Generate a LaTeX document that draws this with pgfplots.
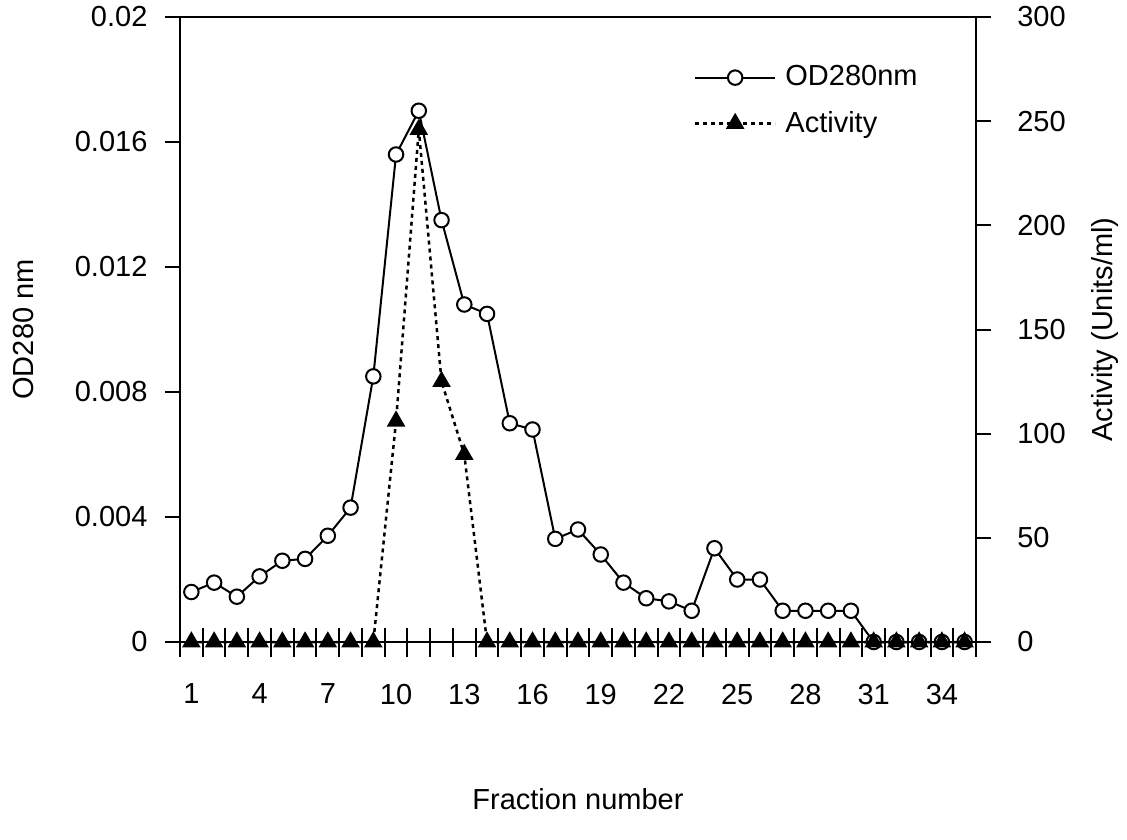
\documentclass[border=0pt]{standalone}
\usepackage{pgfplots}
\pgfplotsset{compat=1.18}
\usepackage{fontspec}
\setmainfont{Liberation Sans}

\pgfplotstableread{
frac od
1 0.0016
2 0.0019
3 0.00145
4 0.0021
5 0.0026
6 0.00266
7 0.0034
8 0.0043
9 0.0085
10 0.0156
11 0.0170
12 0.0135
13 0.0108
14 0.0105
15 0.0070
16 0.0068
17 0.0033
18 0.0036
19 0.0028
20 0.0019
21 0.0014
22 0.0013
23 0.0010
24 0.0030
25 0.0020
26 0.0020
27 0.0010
28 0.0010
29 0.0010
30 0.0010
31 0
32 0
33 0
34 0
35 0
}\odtable

\pgfplotstableread{
frac act
1 0
2 0
3 0
4 0
5 0
6 0
7 0
8 0
9 0
10 106
11 246
12 125
13 90
14 0
15 0
16 0
17 0
18 0
19 0
20 0
21 0
22 0
23 0
24 0
25 0
26 0
27 0
28 0
29 0
30 0
31 0
32 0
33 0
34 0
35 0
}\acttable

\begin{document}
\begin{tikzpicture}[font=\fontsize{11.6}{14}\selectfont]
\useasboundingbox (-72pt,-78.8pt) rectangle (378.8pt,256.8pt);
\pgfplotsset{
  every axis/.append style={
    scale only axis, width=318.4pt, height=250pt,
    xmin=0.5, xmax=35.5, clip=false,
    /pgf/number format/assume math mode=true,
    axis line style={line width=0.8pt},
    every tick/.style={black, line width=0.8pt},
    tick label style={font=\fontsize{11.6}{14}\selectfont},
    label style={font=\fontsize{11.6}{14}\selectfont},
  },
}
% left axis: OD280
\begin{axis}[
  ymin=0, ymax=0.02,
  xtick=\empty,
  ytick={0,0.004,0.008,0.012,0.016,0.02},
  yticklabels={0,0.004,0.008,0.012,0.016,0.02},
  ytick pos=left, tick align=outside, major tick length=6pt,
  yticklabel style={xshift=-3.5pt, inner ysep=0pt},
  ylabel={OD280 nm},
  ylabel style={at={(axis description cs:-0.196,0.5)}, anchor=center},
]
\addplot[black, line width=0.8pt, mark=*, mark size=2.9pt,
  mark options={fill=white, line width=0.8pt}] table[x=frac, y=od] {\odtable};
\end{axis}
% x ticks between fractions, labels every third fraction
\begin{axis}[
  ymin=0, ymax=0.02,
  axis x line*=bottom, axis y line=none,
  xtick={1,4,...,34}, major tick length=0pt,
  minor xtick={0.5,1.5,...,35.5}, minor tick length=11.6pt,
  tick align=center,
  xticklabel style={yshift=-13.2pt},
  xlabel={Fraction number},
  xlabel style={at={(axis description cs:0.5,-0.251)}, anchor=center},
]
\end{axis}
% right axis: activity
\begin{axis}[
  ymin=0, ymax=300,
  axis y line*=right, axis x line=none,
  ytick={0,50,...,300},
  tick align=outside, major tick length=6pt,
  yticklabel style={xshift=7pt, inner ysep=0pt},
  ylabel={Activity (Units/ml)},
  ylabel style={at={(axis description cs:1.162,0.5)}, anchor=center},
  legend style={at={(axis description cs:0.645,0.931)}, anchor=north west,
    draw=none, fill=none, inner sep=0pt, row sep=4.6pt,
    font=\fontsize{11.6}{14}\selectfont},
  legend cell align=left,
  legend image code/.code={\draw[mark repeat=2, mark phase=2, #1]
    plot coordinates {(0pt,0pt) (16pt,0pt) (32pt,0pt)};
    \path (33.6pt,0pt);},
]
\addlegendimage{black, line width=0.8pt, mark=*, mark size=2.9pt,
  mark options={fill=white, line width=0.8pt, solid}}
\addlegendentry{OD280nm}
\addplot[black, line width=1pt, dash pattern=on 1.6pt off 1.6pt,
  mark=triangle*, mark size=3.3pt, mark options={solid}]
  table[x=frac, y=act] {\acttable};
\addlegendentry{Activity}
\end{axis}
\end{tikzpicture}
\end{document}
